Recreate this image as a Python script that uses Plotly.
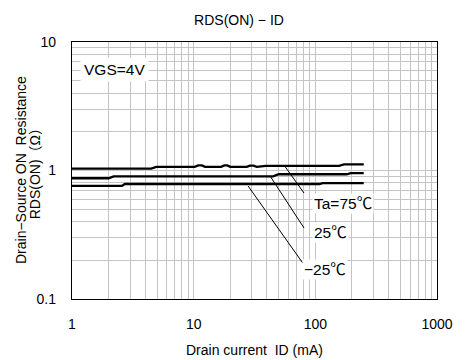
import math
import plotly.graph_objects as go

# ---- data ----
x_75 = [1, 4.48, 4.92, 10.2, 10.9, 11.7, 12.4, 16.8, 17.9, 18.9, 20.0, 27.3, 29.0, 31.0, 33.0, 39.2, 157, 172, 250]
y_75 = [1.036, 1.036, 1.068, 1.068, 1.095, 1.095, 1.068, 1.068, 1.095, 1.095, 1.068, 1.068, 1.09, 1.09, 1.068, 1.088, 1.088, 1.115, 1.115]
x_25 = [1, 2.0, 2.2, 45, 50, 182, 195, 250]
y_25 = [0.87, 0.87, 0.90, 0.90, 0.935, 0.935, 0.953, 0.953]
x_m25 = [1, 2.57, 2.72, 108, 115, 250]
y_m25 = [0.758, 0.758, 0.785, 0.785, 0.797, 0.797]

labels = ["Ta=75℃", "25℃", "−25℃"]
leader_x = [[56.7, 80.7], [43, 80.7], [28, 79]]
leader_y = [[1.065, 0.668], [0.89, 0.357], [0.758, 0.19]]
label_x = [94, 94, 78]
label_y = [0.558, 0.327, 0.171]

x_ticks = [1, 10, 100, 1000]
y_ticks = [0.1, 1, 10]

FONT = "Liberation Sans, Arial, Noto Sans CJK JP"

fig = go.Figure()
for xs, ys in [(x_75, y_75), (x_25, y_25), (x_m25, y_m25)]:
    fig.add_trace(go.Scatter(x=xs, y=ys, mode="lines",
                             line=dict(color="black", width=2.3), showlegend=False, hoverinfo="skip"))
for lx, ly in zip(leader_x, leader_y):
    fig.add_trace(go.Scatter(x=lx, y=ly, mode="lines",
                             line=dict(color="black", width=1), showlegend=False, hoverinfo="skip"))

for t, lx, ly in zip(labels, label_x, label_y):
    fig.add_annotation(x=math.log10(lx), y=math.log10(ly), xref="x", yref="y", text=t,
                       showarrow=False, xanchor="left", yanchor="middle", bgcolor="white",
                       borderpad=1, font=dict(size=15.5, color="black", family=FONT))

fig.add_annotation(x=math.log10(1.17), y=math.log10(6.1), xref="x", yref="y", text="VGS=4V",
                   showarrow=False, xanchor="left", yanchor="middle", bgcolor="white",
                   borderpad=3, font=dict(size=15.5, color="black", family=FONT))

# axis titles
fig.add_annotation(x=-0.141, y=0.5, xref="paper", yref="paper", text="Drain−Source ON  Resistance",
                   textangle=-90, showarrow=False, xanchor="center", yanchor="middle",
                   font=dict(size=14, color="black", family=FONT))
fig.add_annotation(x=-0.102, y=0.5, xref="paper", yref="paper", text="RDS(ON)（Ω）",
                   textangle=-90, showarrow=False, xanchor="center", yanchor="middle",
                   font=dict(size=14, color="black", family=FONT))
fig.add_annotation(x=0.5, y=-0.198, xref="paper", yref="paper", text="Drain current  ID (mA)",
                   showarrow=False, xanchor="center", yanchor="middle",
                   font=dict(size=14, color="black", family=FONT))

grid = "#c4c4c4"
fig.update_xaxes(type="log", range=[0, 3], tickvals=x_ticks, ticktext=[str(v) for v in x_ticks],
                 showgrid=True, gridcolor=grid, gridwidth=1.3,
                 minor=dict(showgrid=True, gridcolor=grid, gridwidth=1.3, dtick="D1", ticks=""),
                 showline=True, linecolor="black", linewidth=1.3, mirror=True,
                 ticks="", ticklabelstandoff=12, zeroline=False,
                 tickfont=dict(size=14, color="black", family=FONT))
fig.update_yaxes(type="log", range=[-1, 1], tickvals=y_ticks, ticktext=["0.1", "1", "10"],
                 showgrid=True, gridcolor=grid, gridwidth=1.3,
                 minor=dict(showgrid=True, gridcolor=grid, gridwidth=1.3, dtick="D1", ticks=""),
                 showline=True, linecolor="black", linewidth=1.3, mirror=True,
                 ticks="", ticklabelstandoff=12, zeroline=False,
                 tickfont=dict(size=14, color="black", family=FONT))

fig.update_layout(
    width=465, height=360,
    margin=dict(l=72, r=20, t=42, b=61),
    paper_bgcolor="white", plot_bgcolor="white",
    title=dict(text="RDS(ON) − ID", x=0.514, xanchor="center", y=0.944, yanchor="middle",
               font=dict(size=14, color="black", family=FONT)),
    showlegend=False,
)

fig.write_html("out.html")
